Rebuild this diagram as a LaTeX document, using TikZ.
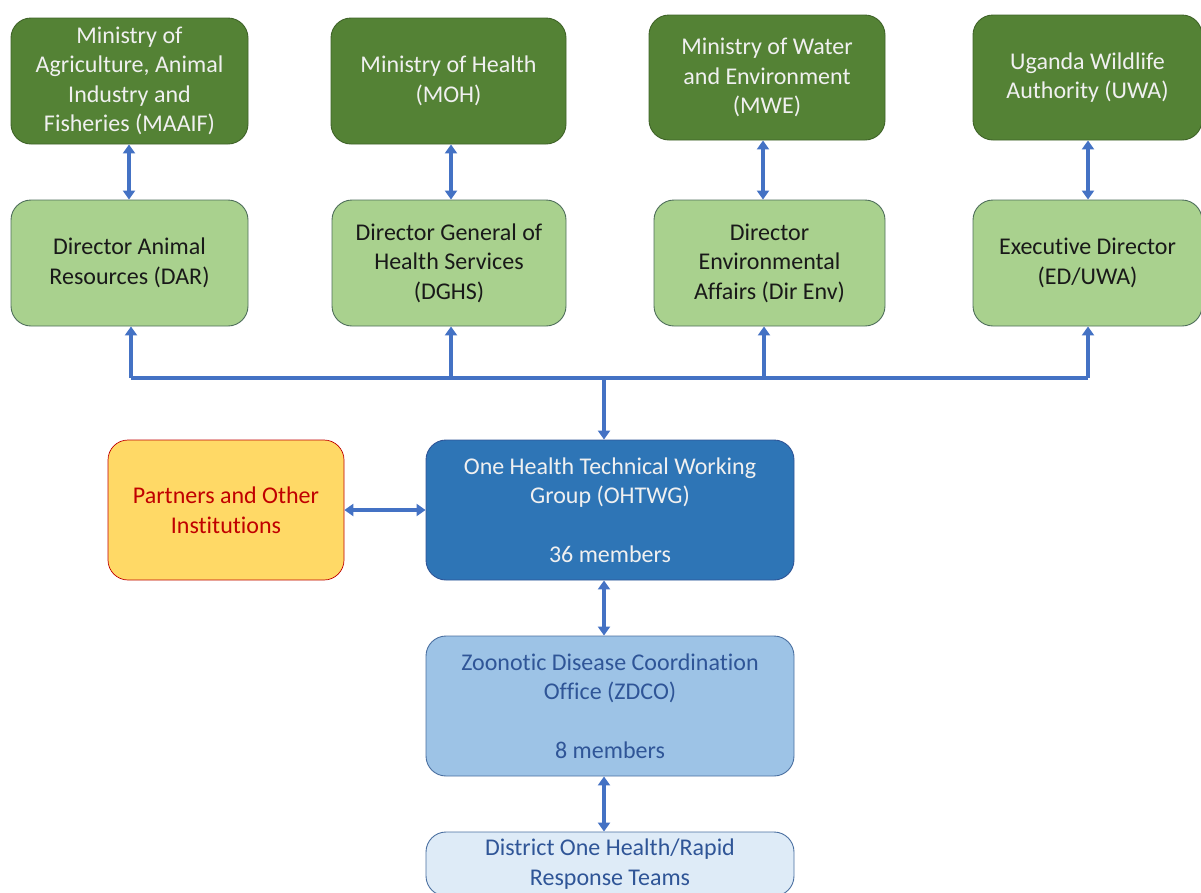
\documentclass[tikz,border=0pt]{standalone}
\usepackage{fontspec}
\setmainfont[Ligatures=NoCommon]{Carlito}
\usetikzlibrary{arrows.meta}
\definecolor{dkgreen}{HTML}{548235}
\definecolor{dkgreenb}{HTML}{3F6328}
\definecolor{ltgreen}{HTML}{A9D18E}
\definecolor{ltgreenb}{HTML}{4E6E5A}
\definecolor{ohblue}{HTML}{2E75B6}
\definecolor{ohblueb}{HTML}{2F5597}
\definecolor{zdblue}{HTML}{9DC3E6}
\definecolor{zdblueb}{HTML}{4A6FA0}
\definecolor{dsblue}{HTML}{DEEBF7}
\definecolor{txtblue}{HTML}{2F5597}
\definecolor{ptyellow}{HTML}{FFD966}
\definecolor{ptred}{HTML}{C00000}
\definecolor{arr}{HTML}{4472C4}
\begin{document}
\begin{tikzpicture}[x=1pt,y=-1pt,
  box/.style={rounded corners=20pt,line width=0.9pt,align=center,inner sep=2pt,
    font=\fontsize{24}{29.5}\selectfont},
  mini/.style={box,draw=dkgreenb,fill=dkgreen,text=white!94!black,minimum height=126pt},
  dir/.style={box,draw=ltgreenb,fill=ltgreen,text=black!90,minimum height=126pt},
  con/.style={draw=arr,line width=3.2pt},
  dbl/.style={con,{Triangle[width=12pt,length=9pt]}-{Triangle[width=12pt,length=9pt]}},
  one/.style={con,-{Triangle[width=12pt,length=9pt]}}]
\useasboundingbox (0,0) rectangle (1201,892);
% top row
\node[mini,minimum width=237pt] (maaif) at (129.5,81) {Ministry of\\Agriculture, Animal\\Industry and\\Fisheries (MAAIF)};
\node[mini,minimum width=235pt] (moh) at (448.5,81) {Ministry of Health\\(MOH)};
\node[mini,minimum width=236pt,minimum height=125pt] (mwe) at (767,77.5) {Ministry of Water\\and Environment\\(MWE)};
\node[mini,minimum width=229pt,minimum height=125pt] (uwa) at (1087.5,77.5) {Uganda Wildlife\\Authority (UWA)};
% second row
\node[dir,minimum width=237pt] (dar) at (129.5,263) {Director Animal\\Resources (DAR)};
\node[dir,minimum width=234pt] (dghs) at (449,263) {Director General of\\Health Services\\(DGHS)};
\node[dir,minimum width=231pt] (dirE) at (769.5,263) {Director\\Environmental\\Affairs (Dir Env)};
\node[dir,minimum width=229pt] (ed) at (1087.5,263) {Executive Director\\(ED/UWA)};
% middle
\node[box,draw=ohblueb,fill=ohblue,text=white!94!black,minimum width=368pt,minimum height=140pt] (oh) at (610,510)
  {One Health Technical Working\\Group (OHTWG)\\[29.5pt]36 members};
\node[box,draw=ptred,line width=0.7pt,fill=ptyellow,text=ptred,minimum width=236pt,minimum height=140pt] (pt) at (226,510)
  {Partners and Other\\Institutions};
\node[box,draw=zdblueb,fill=zdblue,text=txtblue,minimum width=368pt,minimum height=140pt] (zd) at (610,706)
  {Zoonotic Disease Coordination\\Office (ZDCO)\\[29.5pt]8 members};
\node[box,draw=zdblueb,fill=dsblue,text=txtblue,minimum width=368pt,minimum height=64pt] (ds) at (610,864)
  {District One Health/Rapid\\Response Teams};
% top-to-second arrows
\coordinate (a1) at (129,0); \coordinate (a2) at (451,0); \coordinate (a3) at (763,0); \coordinate (a4) at (1088,0);
\draw[dbl] (a1 |- maaif.south) -- (a1 |- dar.north);
\draw[dbl] (a2 |- moh.south) -- (a2 |- dghs.north);
\draw[dbl] (a3 |- mwe.south) -- (a3 |- dirE.north);
\draw[dbl] (a4 |- uwa.south) -- (a4 |- ed.north);
% bus
\coordinate (b1) at (131,378); \coordinate (b2) at (451,378); \coordinate (b3) at (764,378); \coordinate (b4) at (1088,378);
\coordinate (bc) at (604,378);
\draw[con] (b1) -- (b4);
\draw[one] (b1) -- (b1 |- dar.south);
\draw[one] (b2) -- (b2 |- dghs.south);
\draw[one] (b3) -- (b3 |- dirE.south);
\draw[one] (b4) -- (b4 |- ed.south);
\draw[one] (bc) -- (bc |- oh.north);
% lower arrows
\draw[dbl] (pt.east) -- (oh.west);
\draw[dbl] (bc |- oh.south) -- (bc |- zd.north);
\draw[dbl] (bc |- zd.south) -- (bc |- ds.north);
\end{tikzpicture}
\end{document}
